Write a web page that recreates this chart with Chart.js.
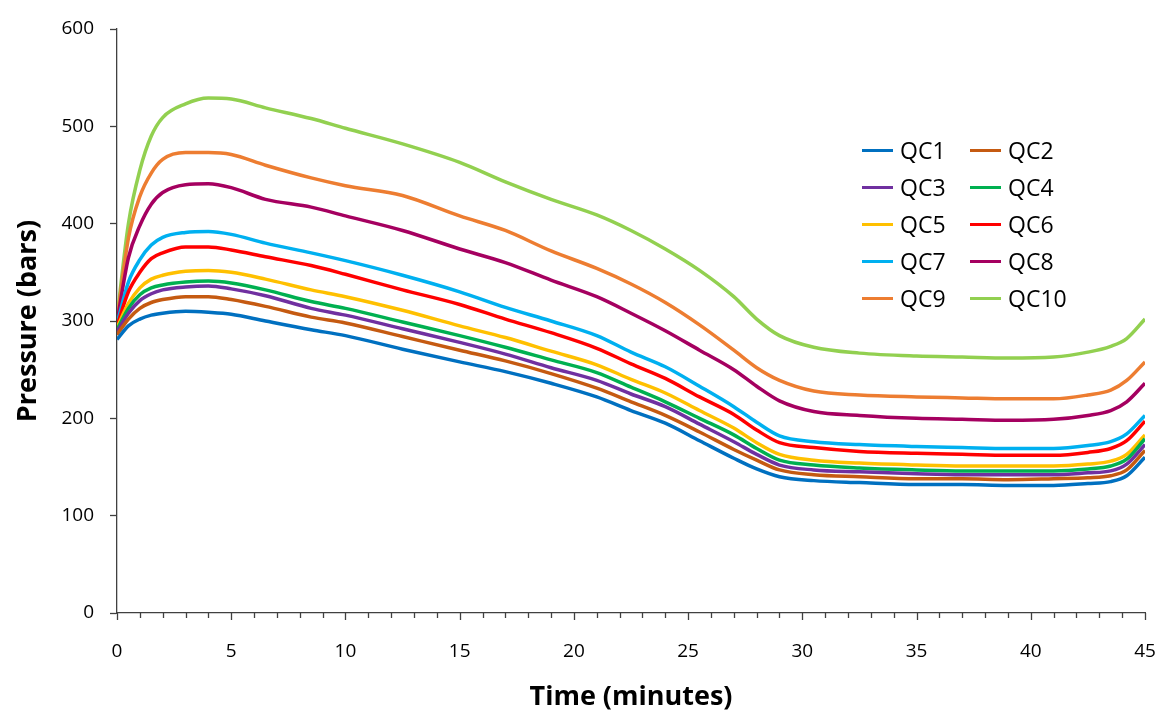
<!DOCTYPE html>
<html>
<head>
<meta charset="utf-8">
<script src="https://cdn.jsdelivr.net/npm/chart.js@4.4.1/dist/chart.umd.min.js"></script>
<style>
	html, body { margin: 0; padding: 0; background: #fff; }
	#wrap { position: relative; width: 1160px; height: 718px; }
	#legend {
		position: absolute; left: 862px; top: 135px;
		display: grid; grid-template-columns: 108px 110px; row-gap: 7px;
		font-family: "Open Sans", sans-serif; font-size: 23px; color: #000;
	}
	.item { display: flex; align-items: center; height: 30px; }
	.swatch { width: 31px; height: 3px; margin-right: 7px; }
</style>
</head>
<body>
<div id="wrap">
	<canvas id="pressure-chart" width="1160" height="718"></canvas>
	<div id="legend"></div>
</div>
<script>
const times = [0, 0.5, 1, 1.5, 2, 3, 4, 5, 6.5, 8.5, 10, 12.5, 15, 17, 19, 21, 22.5, 24, 25.5, 27, 28, 29, 30.5, 32.5, 35, 37, 39, 41, 42.5, 43.5, 44.2, 45];

const qc1 = [281, 295, 302, 306, 308, 310, 309, 307, 300, 291, 285, 271, 258, 248, 236, 222, 208, 195, 177, 159, 148, 140, 136, 134, 132, 132, 131, 131, 133, 135, 141, 160];
const qc2 = [286, 302, 313, 319, 322, 325, 325, 322, 315, 304, 298, 284, 270, 259, 246, 231, 217, 203, 186, 168, 157, 147, 142, 140, 138, 138, 137, 138, 139, 141, 147, 167];
const qc3 = [289, 308, 321, 328, 332, 335, 336, 333, 326, 313, 306, 292, 278, 266, 252, 239, 225, 212, 194, 176, 163, 152, 147, 145, 143, 142, 142, 142, 144, 146, 153, 173];
const qc4 = [291, 313, 327, 334, 337, 340, 341, 339, 332, 320, 313, 299, 285, 273, 260, 247, 232, 217, 200, 183, 169, 157, 152, 149, 147, 146, 146, 146, 148, 151, 158, 179];
const qc5 = [293, 318, 334, 343, 347, 351, 352, 350, 343, 332, 325, 311, 295, 283, 269, 255, 240, 226, 208, 190, 175, 163, 157, 154, 152, 151, 151, 151, 153, 156, 163, 183];
const qc6 = [295, 330, 350, 364, 370, 376, 376, 373, 366, 357, 348, 332, 317, 302, 288, 272, 256, 241, 222, 204, 188, 175, 170, 166, 164, 163, 162, 162, 165, 169, 177, 197];
const qc7 = [297, 340, 363, 378, 386, 391, 392, 389, 380, 370, 362, 347, 330, 314, 300, 285, 268, 253, 233, 212, 196, 182, 176, 173, 171, 170, 169, 169, 172, 176, 184, 203];
const qc8 = [299, 365, 398, 420, 432, 440, 441, 437, 425, 417, 408, 393, 374, 360, 342, 325, 308, 290, 270, 250, 233, 218, 207, 203, 200, 199, 198, 199, 203, 208, 217, 236];
const qc9 = [301, 385, 428, 452, 466, 473, 473, 471, 460, 447, 439, 429, 408, 393, 372, 354, 338, 319, 296, 270, 252, 239, 228, 224, 222, 221, 220, 220, 224, 229, 239, 258];
const qc10 = [303, 400, 455, 490, 509, 523, 529, 528, 519, 508, 498, 482, 463, 443, 425, 409, 393, 374, 352, 325, 302, 285, 273, 267, 264, 263, 262, 263, 268, 274, 282, 302];

const seriesNames = ["QC1", "QC2", "QC3", "QC4", "QC5", "QC6", "QC7", "QC8", "QC9", "QC10"];
const seriesValues = [qc1, qc2, qc3, qc4, qc5, qc6, qc7, qc8, qc9, qc10];
const seriesColors = ["#0070C0", "#C55A11", "#7030A0", "#00B050", "#FFC000", "#FF0000", "#00B0F0", "#A50060", "#ED7D31", "#92D050"];

const xTicks = [0, 5, 10, 15, 20, 25, 30, 35, 40, 45];
const yTicks = [0, 100, 200, 300, 400, 500, 600];

const axisColor = "#404040";
const fontFamily = "'Open Sans', sans-serif";

// x tick marks: majors every 5, minors every minute (drawn here so the
// label gap can be set by an invisible tickLength without widening the axis)
const xTickMarks = {
	id: "xTickMarks",
	afterDraw(chart) {
		const s = chart.scales.x;
		const ctx = chart.ctx;
		ctx.save();
		ctx.strokeStyle = axisColor;
		ctx.lineWidth = 1.3;
		for (let i = s.min; i <= s.max; i++) {
			const len = i % 5 === 0 ? 7 : 5;
			const px = Math.round(s.getPixelForValue(i)) + 0.5;
			ctx.beginPath();
			ctx.moveTo(px, s.top);
			ctx.lineTo(px, s.top + len);
			ctx.stroke();
		}
		ctx.restore();
	},
};

const datasets = seriesValues.map((vals, i) => ({
	label: seriesNames[i],
	data: vals.map((v, j) => ({ x: times[j], y: v })),
	borderColor: seriesColors[i],
	backgroundColor: seriesColors[i],
	borderWidth: 3.5,
	pointRadius: 0,
	cubicInterpolationMode: "monotone",
}));

const ctx = document.getElementById("pressure-chart").getContext("2d");
new Chart(ctx, {
	type: "line",
	data: { datasets: datasets },
	plugins: [xTickMarks],
	options: {
		responsive: false,
		animation: false,
		layout: {
			padding: { top: 29, right: 15, left: 0, bottom: 0 },
		},
		plugins: {
			legend: { display: false },
			tooltip: { enabled: false },
		},
		scales: {
			x: {
				type: "linear",
				min: 0,
				max: 45,
				afterBuildTicks: (scale) => {
					scale.ticks = xTicks.map((v) => ({ value: v }));
				},
				afterFit: (scale) => {
					scale.height = 105;
				},
				ticks: {
					autoSkip: false,
					maxRotation: 0,
					padding: 0,
					color: "#000",
					font: { family: fontFamily, size: 19 },
				},
				grid: {
					drawOnChartArea: false,
					tickLength: 27,
					tickColor: "rgba(0,0,0,0)",
				},
				border: { color: axisColor, width: 1.3 },
				title: {
					display: true,
					text: "Time (minutes)",
					color: "#000",
					font: { family: fontFamily, size: 27, weight: "bold" },
					padding: { top: 8 },
				},
			},
			y: {
				min: 0,
				max: 600,
				afterBuildTicks: (scale) => {
					scale.ticks = yTicks.map((v) => ({ value: v }));
				},
				afterFit: (scale) => {
					scale.width = 117;
				},
				ticks: {
					padding: 16,
					color: "#000",
					font: { family: fontFamily, size: 19 },
				},
				grid: {
					drawOnChartArea: false,
					tickLength: 7,
					tickColor: axisColor,
					tickWidth: 1.3,
				},
				border: { color: axisColor, width: 1.3 },
				title: {
					display: true,
					text: "Pressure (bars)",
					color: "#000",
					font: { family: fontFamily, size: 27, weight: "bold" },
					padding: { top: 12, bottom: 4 },
				},
			},
		},
	},
});

// legend in two columns, built from the datasets
const legend = document.getElementById("legend");
datasets.forEach((ds) => {
	const item = document.createElement("div");
	item.className = "item";
	const sw = document.createElement("span");
	sw.className = "swatch";
	sw.style.background = ds.borderColor;
	const txt = document.createElement("span");
	txt.innerText = ds.label;
	item.appendChild(sw);
	item.appendChild(txt);
	legend.appendChild(item);
});
</script>
</body>
</html>
